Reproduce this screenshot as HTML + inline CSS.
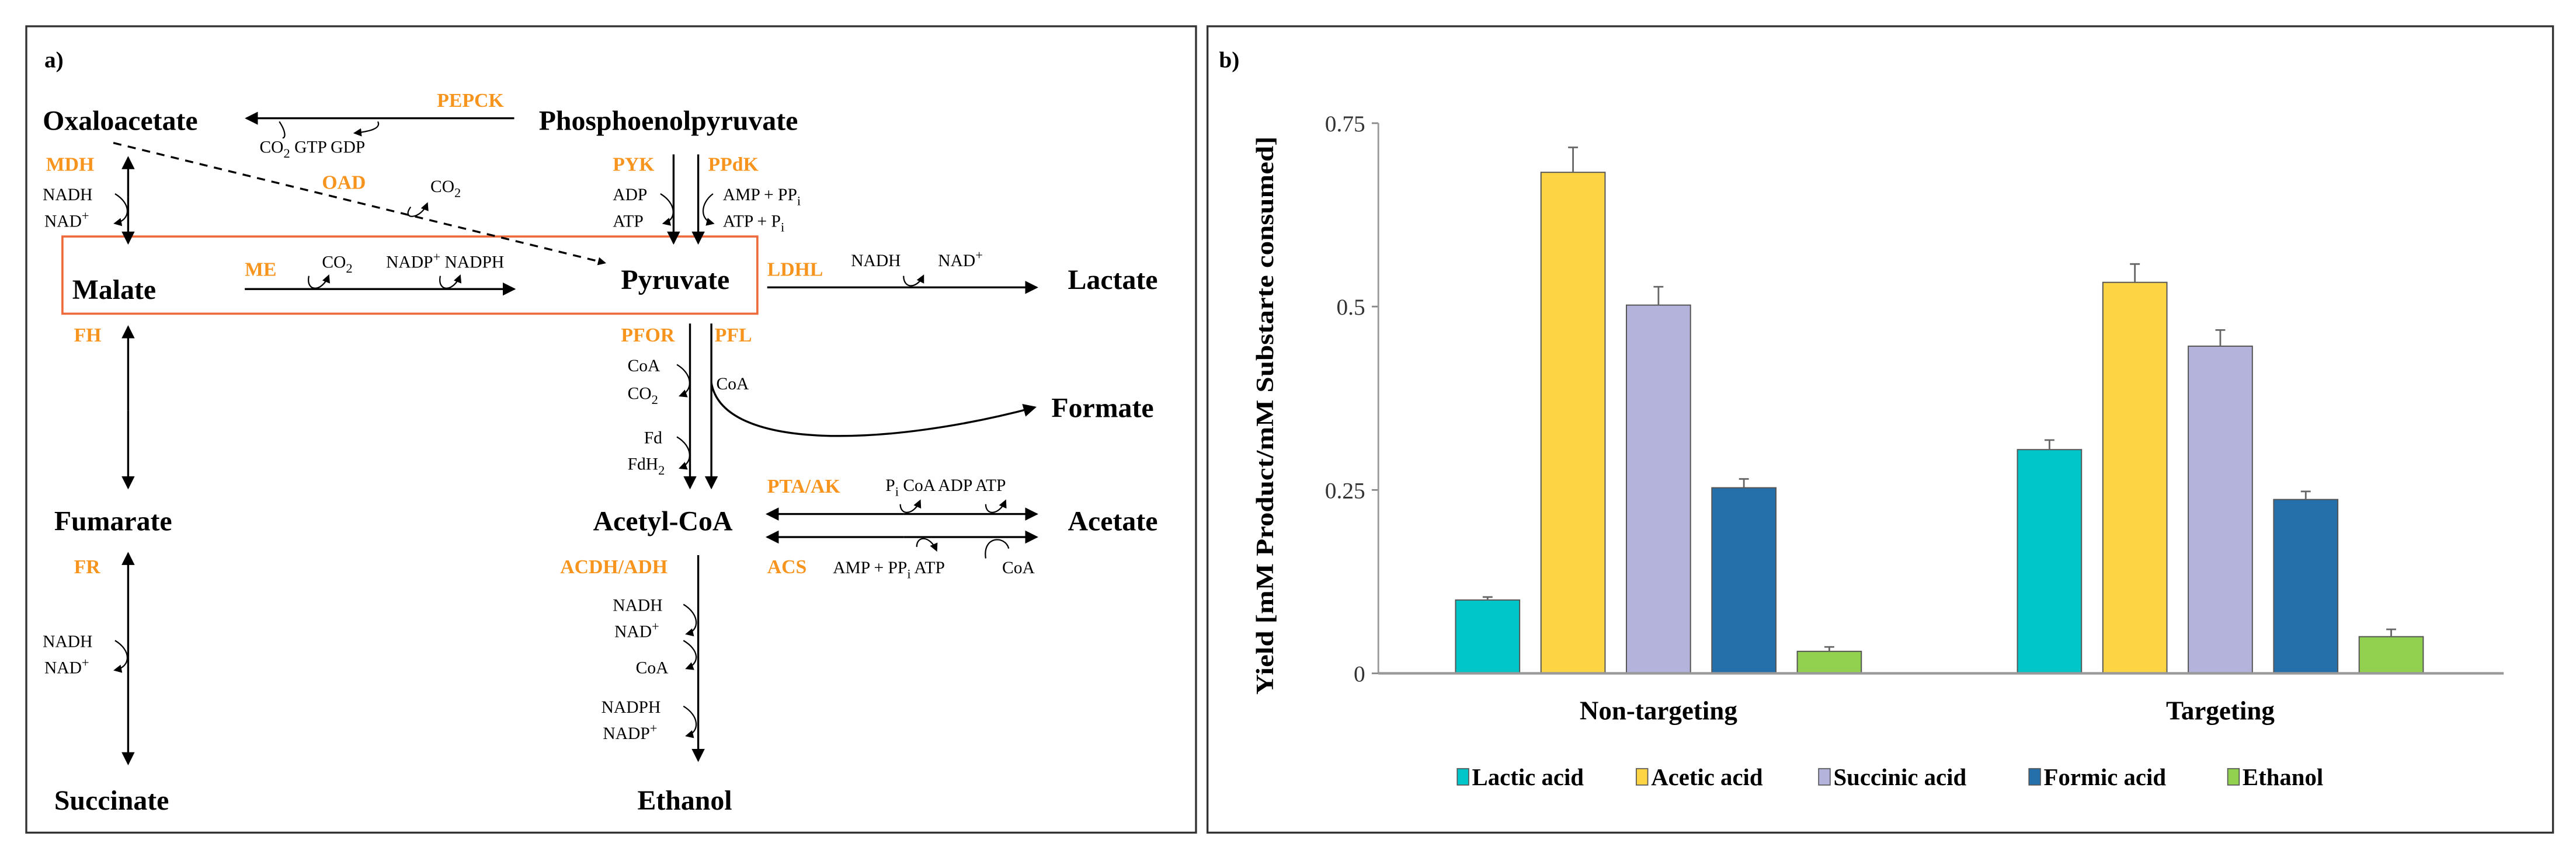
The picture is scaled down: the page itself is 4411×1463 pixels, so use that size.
<!DOCTYPE html>
<html><head><meta charset="utf-8"><style>
html,body{margin:0;padding:0;background:#fff}
svg{display:block}
text{font-family:"Liberation Serif",serif}
.m{font-weight:bold;font-size:17px;fill:#000}
.o{font-weight:bold;font-size:12px;fill:#f7941d}
.s{font-size:10.5px;fill:#000}
</style></head><body>
<svg id="fig" width="4411" height="1463" viewBox="0 0 1568 520" preserveAspectRatio="none" xmlns="http://www.w3.org/2000/svg">
<defs>
<marker id="ah" markerWidth="8" markerHeight="8" refX="7" refY="4" orient="auto" markerUnits="userSpaceOnUse"><path d="M0,0 L8,4 L0,8 Z" fill="#000"/></marker>
<marker id="as" markerWidth="5" markerHeight="5" refX="4" refY="2.5" orient="auto" markerUnits="userSpaceOnUse"><path d="M0,0 L5,2.5 L0,5 Z" fill="#000"/></marker>
</defs>
<g>
<rect x="16" y="16" width="712" height="491" fill="none" stroke="#333" stroke-width="1.2"/>
<text x="27" y="41" style="font-size:14px;font-weight:bold">a)</text>
<rect x="38" y="144" width="423" height="47" fill="none" stroke="#ee6a3c" stroke-width="1.3"/>
<g stroke="#000" stroke-width="1.2" fill="none">
<line x1="313" y1="72" x2="150" y2="72" marker-end="url(#ah)"/>
<line x1="69" y1="87" x2="368" y2="160" stroke-dasharray="5,4" marker-end="url(#as)"/>
<line x1="78" y1="120" x2="78" y2="96" marker-end="url(#ah)"/><line x1="78" y1="120" x2="78" y2="148" marker-end="url(#ah)"/>
<line x1="149" y1="176" x2="313" y2="176" marker-end="url(#ah)"/>
<line x1="410" y1="94" x2="410" y2="148" marker-end="url(#ah)"/>
<line x1="425" y1="94" x2="425" y2="148" marker-end="url(#ah)"/>
<line x1="467" y1="175" x2="631" y2="175" marker-end="url(#ah)"/>
<line x1="78" y1="250" x2="78" y2="199" marker-end="url(#ah)"/><line x1="78" y1="250" x2="78" y2="297" marker-end="url(#ah)"/>
<line x1="78" y1="400" x2="78" y2="337" marker-end="url(#ah)"/><line x1="78" y1="400" x2="78" y2="465" marker-end="url(#ah)"/>
<line x1="420" y1="197" x2="420" y2="297" marker-end="url(#ah)"/>
<line x1="433" y1="197" x2="433" y2="297" marker-end="url(#ah)"/>
<path d="M433,233 C440,275 540,272 630,248" marker-end="url(#ah)"/>
<line x1="550" y1="313" x2="467" y2="313" marker-end="url(#ah)"/><line x1="550" y1="313" x2="631" y2="313" marker-end="url(#ah)"/>
<line x1="550" y1="327" x2="467" y2="327" marker-end="url(#ah)"/><line x1="550" y1="327" x2="631" y2="327" marker-end="url(#ah)"/>
<line x1="425" y1="338" x2="425" y2="463" marker-end="url(#ah)"/>
</g>
<g stroke="#000" stroke-width="0.8" fill="none">
<path d="M170,74 C174,80 174,84 172,84"/><path d="M230,74 C232,78 226,80 216,81" marker-end="url(#as)"/>
<path d="M250,126 C244,134 256,134 260,124" marker-end="url(#as)"/>
<path d="M70,118 C80,124 80,134 70,136" marker-end="url(#as)"/>
<path d="M188,168 C186,178 196,178 200,168" marker-end="url(#as)"/>
<path d="M268,168 C266,178 276,178 280,168" marker-end="url(#as)"/>
<path d="M402,118 C412,124 412,134 404,136" marker-end="url(#as)"/>
<path d="M434,118 C426,124 426,134 434,136" marker-end="url(#as)"/>
<path d="M550,168 C550,176 558,176 562,168" marker-end="url(#as)"/>
<path d="M70,390 C80,396 80,406 70,408" marker-end="url(#as)"/>
<path d="M412,222 C422,228 422,238 414,241" marker-end="url(#as)"/>
<path d="M412,266 C422,272 422,282 414,285" marker-end="url(#as)"/>
<path d="M548,307 C548,314 556,314 560,305" marker-end="url(#as)"/>
<path d="M600,307 C600,314 608,314 612,305" marker-end="url(#as)"/>
<path d="M558,333 C558,326 566,326 570,335" marker-end="url(#as)"/>
<path d="M600,340 C598,326 612,326 614,334"/>
<path d="M416,368 C426,374 426,384 418,386" marker-end="url(#as)"/>
<path d="M416,390 C426,396 426,404 418,407" marker-end="url(#as)"/>
<path d="M416,430 C426,436 426,446 418,448" marker-end="url(#as)"/>
</g>
<text class="m" x="26" y="79">Oxaloacetate</text>
<text class="m" x="328" y="79">Phosphoenolpyruvate</text>
<text class="m" x="44" y="182">Malate</text>
<text class="m" x="378" y="176">Pyruvate</text>
<text class="m" x="650" y="176">Lactate</text>
<text class="m" x="640" y="254">Formate</text>
<text class="m" x="33" y="323">Fumarate</text>
<text class="m" x="361" y="323">Acetyl-CoA</text>
<text class="m" x="650" y="323">Acetate</text>
<text class="m" x="33" y="493">Succinate</text>
<text class="m" x="388" y="493">Ethanol</text>
<text class="o" x="266" y="65">PEPCK</text>
<text class="o" x="196" y="115">OAD</text>
<text class="o" x="28" y="104">MDH</text>
<text class="o" x="149" y="168">ME</text>
<text class="o" x="373" y="104">PYK</text>
<text class="o" x="431" y="104">PPdK</text>
<text class="o" x="467" y="168">LDHL</text>
<text class="o" x="45" y="208">FH</text>
<text class="o" x="45" y="349">FR</text>
<text class="o" x="378" y="208">PFOR</text>
<text class="o" x="435" y="208">PFL</text>
<text class="o" x="467" y="300">PTA/AK</text>
<text class="o" x="467" y="349">ACS</text>
<text class="o" x="341" y="349">ACDH/ADH</text>
<g>
<text class="s" x="158" y="93">CO<tspan font-size="8" dy="3">2</tspan><tspan dy="-3"> GTP  GDP</tspan></text>
<text class="s" x="262" y="117">CO<tspan font-size="8" dy="3">2</tspan></text>
<text class="s" x="26" y="122">NADH</text><text class="s" x="27" y="138">NAD<tspan font-size="8" dy="-4">+</tspan></text>
<text class="s" x="196" y="163">CO<tspan font-size="8" dy="3">2</tspan></text>
<text class="s" x="235" y="163">NADP<tspan font-size="8" dy="-4">+</tspan><tspan dy="4"> NADPH</tspan></text>
<text class="s" x="373" y="122">ADP</text><text class="s" x="373" y="138">ATP</text>
<text class="s" x="440" y="122">AMP + PP<tspan font-size="8" dy="3">i</tspan></text>
<text class="s" x="440" y="138">ATP + P<tspan font-size="8" dy="3">i</tspan></text>
<text class="s" x="518" y="162">NADH</text><text class="s" x="571" y="162">NAD<tspan font-size="8" dy="-4">+</tspan></text>
<text class="s" x="382" y="226">CoA</text><text class="s" x="382" y="243">CO<tspan font-size="8" dy="3">2</tspan></text>
<text class="s" x="392" y="270">Fd</text><text class="s" x="382" y="286">FdH<tspan font-size="8" dy="3">2</tspan></text>
<text class="s" x="436" y="237">CoA</text>
<text class="s" x="539" y="299">P<tspan font-size="8" dy="3">i</tspan><tspan dy="-3">  CoA  ADP  ATP</tspan></text>
<text class="s" x="507" y="349">AMP + PP<tspan font-size="8" dy="3">i</tspan><tspan dy="-3">   ATP</tspan></text>
<text class="s" x="610" y="349">CoA</text>
<text class="s" x="26" y="394">NADH</text><text class="s" x="27" y="410">NAD<tspan font-size="8" dy="-4">+</tspan></text>
<text class="s" x="373" y="372">NADH</text><text class="s" x="374" y="388">NAD<tspan font-size="8" dy="-4">+</tspan></text>
<text class="s" x="387" y="410">CoA</text>
<text class="s" x="366" y="434">NADPH</text><text class="s" x="367" y="450">NADP<tspan font-size="8" dy="-4">+</tspan></text>
</g>
</g>
<g>
<rect x="735" y="16" width="819" height="491" fill="none" stroke="#333" stroke-width="1.2"/>
<text x="742" y="41" style="font-size:14px;font-weight:bold">b)</text>
<text transform="translate(775,253) rotate(-90)" text-anchor="middle" textLength="340" lengthAdjust="spacingAndGlyphs" style="font-size:15px;font-weight:bold">Yield [mM Product/mM Substarte consumed]</text>
<g id="chart"></g>
</g>
</svg>
<script>
const categories = ["Non-targeting", "Targeting"];
const seriesNames = ["Lactic acid", "Acetic acid", "Succinic acid", "Formic acid", "Ethanol"];
const seriesColors = ["#00c5c9", "#fdd443", "#b3b3dc", "#2570aa", "#92d050"];
const lactic = [0.10, 0.305];
const acetic = [0.683, 0.533];
const succinic = [0.502, 0.446];
const formic = [0.253, 0.237];
const ethanol = [0.030, 0.050];
const lacticErr = [0.004, 0.013];
const aceticErr = [0.034, 0.025];
const succinicErr = [0.025, 0.022];
const formicErr = [0.012, 0.011];
const ethanolErr = [0.006, 0.010];
const yTicks = [0, 0.25, 0.5, 0.75];
const yTickLabels = ["0", "0.25", "0.5", "0.75"];

const values = [lactic, acetic, succinic, formic, ethanol];
const errs = [lacticErr, aceticErr, succinicErr, formicErr, ethanolErr];
const NS = "http://www.w3.org/2000/svg";
const g = document.getElementById("chart");
const X0 = 839, X1 = 1524, Y0 = 410, Y1 = 75, YMAX = 0.75;
const y = v => Y0 - (v / YMAX) * (Y0 - Y1);
const groupStart = [886, 1228];
const step = 52, bw = 39;
const x = (ci, si) => groupStart[ci] + si * step;
function mk(tag, attrs) { const e = document.createElementNS(NS, tag); for (const k in attrs) e.setAttribute(k, attrs[k]); g.appendChild(e); return e; }

yTicks.forEach((t, i) => {
  const tk = mk("line", {x1: X0 - 4, x2: X0, y1: y(t), y2: y(t), stroke: "#888", "stroke-width": 1});
  
  
  const tl = mk("text", {x: X0 - 8, y: y(t) + 5, "text-anchor": "end", "font-size": "14", fill: "#333"});
  tl.textContent = yTickLabels[i];
  
  
});
const ya = mk("line", {x1: X0, x2: X0, y1: Y1, y2: Y0, stroke: "#999", "stroke-width": 1});



categories.forEach((c, ci) => {
  values.forEach((arr, si) => {
    const v = arr[ci], bx = x(ci, si);
    const r = mk("rect", {x: bx, y: y(v), width: bw, height: Y0 - y(v), fill: seriesColors[si], stroke: "#555", "stroke-width": 0.7});
    
    
    const e = errs[si][ci], cx = bx + bw / 2;
    const el = mk("path", {d: `M${cx},${y(v)} V${y(v + e)} M${cx - 3},${y(v + e)} H${cx + 3}`, stroke: "#666", "stroke-width": 1, fill: "none"});
    
    
  });
  const cl = mk("text", {x: x(ci, 2) + bw / 2, y: 438, "text-anchor": "middle", "font-size": "16", "font-weight": "bold"});
  cl.textContent = c;
  
  
});
const xa = mk("line", {x1: X0, x2: X1, y1: Y0, y2: Y0, stroke: "#999", "stroke-width": 1.5});



const legX = [887, 996, 1107, 1235, 1356];
seriesNames.forEach((n, i) => {
  const sw = mk("rect", {x: legX[i], y: 468, width: 7, height: 10, fill: seriesColors[i], stroke: "#555", "stroke-width": 0.6});
  
  
  const lt = mk("text", {x: legX[i] + 9, y: 478, "font-size": "14.5", "font-weight": "bold"});
  lt.textContent = n;
  
  
});
</script>
</body></html>
